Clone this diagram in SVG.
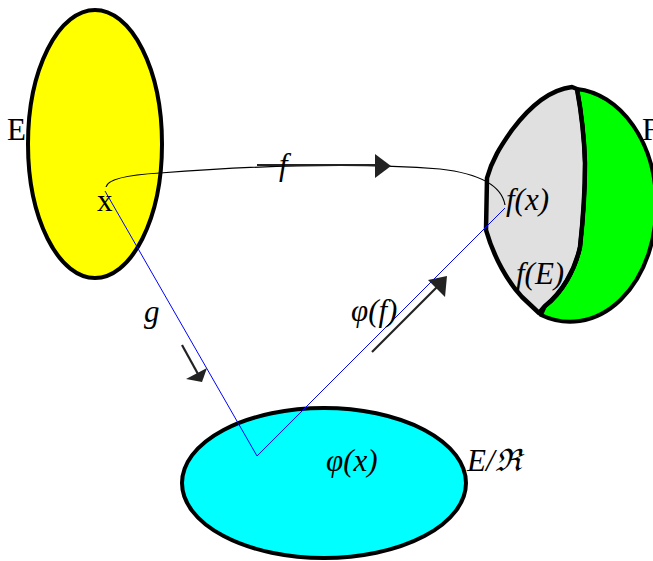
<svg xmlns="http://www.w3.org/2000/svg" width="653" height="561" viewBox="0 0 653 561">
<style>
.set{stroke:#000;stroke-width:4}
.lbl{font-family:"Liberation Serif","DejaVu Serif",serif;font-size:31px;fill:#000}
.it{font-style:italic}
.blue{fill:none;stroke:#0000ff;stroke-width:1}
.thin{fill:none;stroke:#000;stroke-width:1.2}
.shaft{stroke:#222;stroke-width:2.2;fill:none}
.head{fill:#222;stroke:none}
</style>
<rect width="653" height="561" fill="#fff"/>
<g id="setE">
<ellipse class="set" cx="95" cy="144" rx="67" ry="134" fill="#ffff00"/>
<text class="lbl" x="7" y="140">E</text>
<text class="lbl" x="97" y="211" font-size="29">x</text>
</g>
<g id="setF">
<path d="M577,89 A86,115 0 0,1 656,203 A86,115 0 0,1 541,315 L545,306 C562,293 575,270 580,247 C583,220 585,190 585,163 C584,130 580,105 577,89 Z" fill="#00ff00" stroke="#000" stroke-width="4" stroke-linejoin="round"/>
<path d="M577,89 L572,87 C547,90 527,110 512,130 C500,147 492,160 487,178 L486,230 C494,258 508,282 522,297 L539,313 L545,306 C562,293 575,270 580,247 C583,220 585,190 585,163 C584,130 580,105 577,89 Z" fill="#e0e0e0" stroke="#000" stroke-width="4.5" stroke-linejoin="round"/>
<text class="lbl" x="642" y="140">F</text>
<text class="lbl it" x="506" y="210">f(x)</text>
<text class="lbl it" x="516" y="284">f(E)</text>
<path d="M577,89 C580,105 584,130 585,163 C585,190 583,220 580,247 C575,270 562,293 545,306 L539,313" fill="none" stroke="#000" stroke-width="4" stroke-linejoin="round"/>
</g>
<g id="setQ">
<ellipse class="set" cx="324" cy="483" rx="142" ry="75" fill="#00ffff"/>
<text class="lbl it" x="326" y="471">φ(x)</text>
<text class="lbl it" x="467" y="471">E/ℜ</text>
</g>
<g id="connectors">
<path class="thin" d="M106,187 Q108,176 160,173 Q330,160 440,169 Q500,176 505,205"/>
<polyline class="blue" points="105,191 257,456 505,208"/>
<path class="shaft" d="M257,165 L380,165"/>
<polygon class="head" points="375,154 391,166 375,178"/>
<text class="lbl it" x="279" y="175">f</text>
<path class="shaft" d="M182,345 L198,374"/>
<polygon class="head" points="186,379 207,368 202,382"/>
<text class="lbl it" x="144" y="322">g</text>
<path class="shaft" d="M372,352 L438,286"/>
<polygon class="head" points="428,280 447,276 445,297"/>
<text class="lbl it" x="351" y="321">φ(f)</text>
</g>
</svg>
